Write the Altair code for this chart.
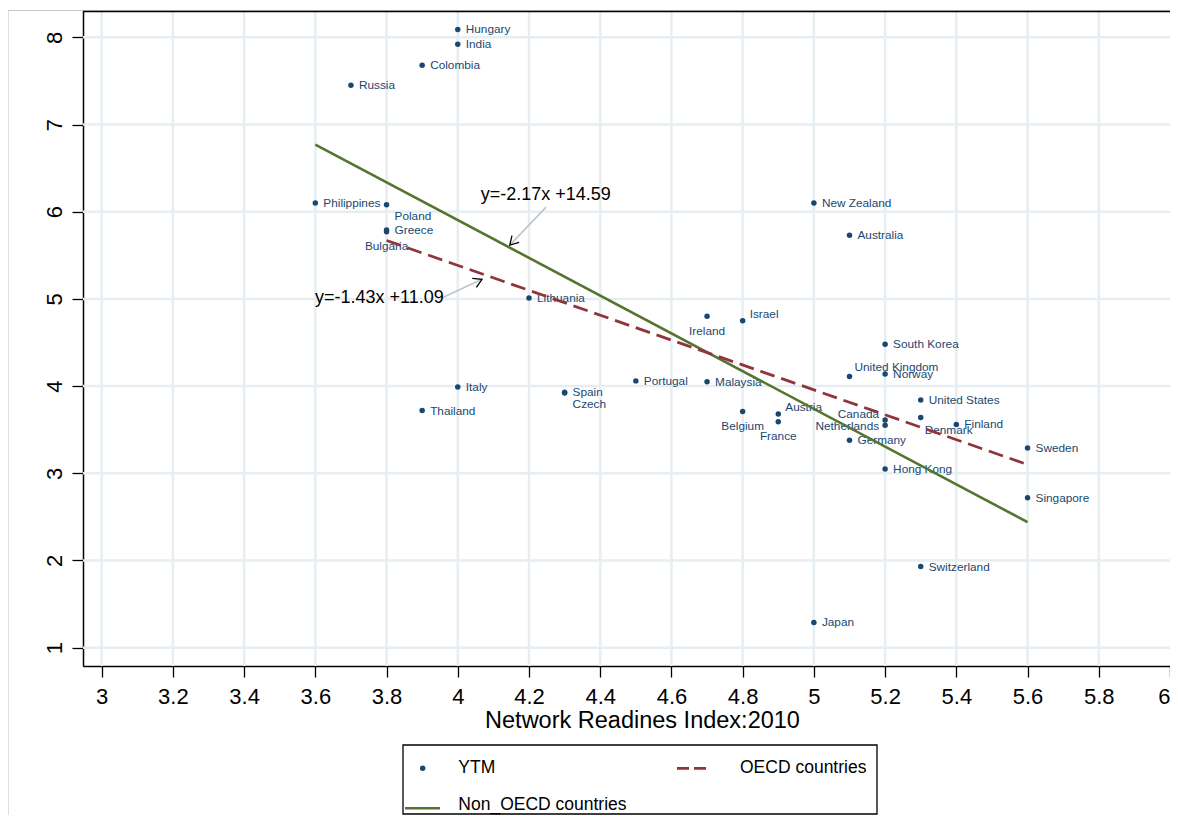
import altair as alt
import pandas as pd

# ---------------- data ----------------
countries = ["Hungary", "India", "Colombia", "Russia", "Philippines", "Poland", "Greece",
             "Bulgaria", "Lithuania", "Italy", "Thailand", "Spain", "Czech", "Portugal",
             "Malaysia", "Ireland", "Israel", "Belgium", "Austria", "France", "New Zealand",
             "Japan", "Australia", "United Kingdom", "Germany", "South Korea", "Norway",
             "Canada", "Netherlands", "Hong Kong", "United States", "Denmark", "Switzerland",
             "Finland", "Sweden", "Singapore"]
nri = [4.0, 4.0, 3.9, 3.7, 3.6, 3.8, 3.8,
       3.8, 4.2, 4.0, 3.9, 4.3, 4.3, 4.5,
       4.7, 4.7, 4.8, 4.8, 4.9, 4.9, 5.0,
       5.0, 5.1, 5.1, 5.1, 5.2, 5.2,
       5.2, 5.2, 5.2, 5.3, 5.3, 5.3,
       5.4, 5.6, 5.6]
ytm = [8.09, 7.92, 7.68, 7.45, 6.10, 6.08, 5.79,
       5.77, 5.01, 3.99, 3.72, 3.93, 3.92, 4.06,
       4.05, 4.80, 4.75, 3.71, 3.68, 3.59, 6.10,
       1.29, 5.73, 4.11, 3.38, 4.48, 4.14,
       3.61, 3.55, 3.05, 3.84, 3.64, 1.93,
       3.56, 3.29, 2.72]
# clock position of each marker label
label_pos = [3, 3, 3, 3, 3, 4, 3,
             6, 3, 3, 3, 3, 4, 3,
             3, 6, 2, 6, 2, 6, 3,
             3, 3, 1, 3, 3, 3,
             10, 9, 3, 3, 5, 3,
             3, 3, 3]

fit_series = ["Non_OECD countries", "Non_OECD countries", "OECD countries", "OECD countries"]
fit_x = [3.6, 5.6, 3.8, 5.6]
fit_y = [6.77, 2.44, 5.67, 3.10]

eq_text = ["y=-2.17x +14.59", "y=-1.43x +11.09"]
eq_x = [4.247, 3.78]
eq_y = [6.19, 5.007]
arrow_x = [4.248, 3.955]
arrow_y = [6.053, 5.01]
arrow_x2 = [4.146, 4.068]
arrow_y2 = [5.617, 5.225]
arrow_angle = [43, 245]

x_ticks = [3, 3.2, 3.4, 3.6, 3.8, 4, 4.2, 4.4, 4.6, 4.8, 5, 5.2, 5.4, 5.6, 5.8, 6]
y_ticks = [1, 2, 3, 4, 5, 6, 7, 8]
grid_x = [3, 3.2, 3.4, 3.6, 3.8, 4, 4.2, 4.4, 4.6, 4.8, 5, 5.2, 5.4, 5.6, 5.8]
grid_y = [1, 2, 3, 4, 5, 6, 7, 8]

legend_labels = ["YTM", "OECD countries", "Non_OECD countries"]

# ---------------- style ----------------
FONT = "Liberation Sans"
NAVY = "#1a476f"
MAROON = "#90353b"
GREEN = "#55752f"
GRID = "#e6eef1"

W, H = 1087, 655
xs = alt.Scale(domain=[2.9476, 6.0], nice=False, zero=False)
ys = alt.Scale(domain=[0.790, 8.302], nice=False, zero=False)

AX = alt.Axis(values=x_ticks, title="Network Readines Index:2010", format="~g",
              labelFlush=False, labelOverlap=False, labelPadding=9,
              labelAlign=alt.condition("datum.value >= 6", alt.value("right"), alt.value("center")),
              titleX=559, titleY=61, titleBaseline="alphabetic", titleAlign="center")
AY = alt.Axis(values=y_ticks, title=None, format="~g", labelAngle=270,
              labelAlign="center", labelBaseline="alphabetic", labelPadding=11,
              labelFlush=False, labelOverlap=False)


def X(field):
    return alt.X(field, scale=xs, axis=AX)


def Y(field):
    return alt.Y(field, scale=ys, axis=AY)


pts = pd.DataFrame({"country": countries, "nri": nri, "ytm": ytm, "pos": label_pos})
fits = pd.DataFrame({"series": fit_series, "nri": fit_x, "ytm": fit_y})
eqs = pd.DataFrame({"t": eq_text, "nri": eq_x, "ytm": eq_y})
shaft_df = pd.DataFrame({"nri": arrow_x, "ytm": arrow_y, "nri2": arrow_x2, "ytm2": arrow_y2})
head_df = pd.DataFrame({"nri": arrow_x2, "ytm": arrow_y2, "ang": arrow_angle})
one = pd.DataFrame({"k": [0]})

gridx = alt.Chart(pd.DataFrame({"nri": grid_x})).mark_rule(color=GRID, strokeWidth=2.5).encode(
    x=X("nri:Q"))
gridy = alt.Chart(pd.DataFrame({"ytm": grid_y})).mark_rule(color=GRID, strokeWidth=2.5).encode(
    y=Y("ytm:Q"))

points = alt.Chart(pts).mark_circle(size=30, color=NAVY, opacity=1).encode(
    x=X("nri:Q"), y=Y("ytm:Q"))

label_styles = {1: ("left", 5, -10), 2: ("left", 7, -7), 3: ("left", 8, 0), 4: ("left", 8, 11),
                5: ("left", 4, 13), 6: ("center", 0, 14.5), 9: ("right", -6, 1), 10: ("right", -6, -6)}
labels = [
    alt.Chart(pts).transform_filter(alt.datum.pos == p).mark_text(
        align=a, dx=dx, dy=dy, baseline="middle", font=FONT, fontSize=11.8, color=NAVY
    ).encode(x=X("nri:Q"), y=Y("ytm:Q"), text="country:N")
    for p, (a, dx, dy) in label_styles.items()
]

green = alt.Chart(fits).transform_filter(alt.datum.series == "Non_OECD countries").mark_line(
    color=GREEN, strokeWidth=2.6).encode(x=X("nri:Q"), y=Y("ytm:Q"))
red = alt.Chart(fits).transform_filter(alt.datum.series == "OECD countries").mark_line(
    color=MAROON, strokeWidth=2.8, strokeDash=[15, 7]).encode(x=X("nri:Q"), y=Y("ytm:Q"))

shafts = alt.Chart(shaft_df).mark_rule(color="#c4c4c4", strokeWidth=1.6).encode(
    x=X("nri:Q"), y=Y("ytm:Q"), x2="nri2:Q", y2="ytm2:Q")
heads = alt.Chart(head_df).mark_point(
    shape="M -0.5 -0.866 L 0 0 L 0.5 -0.866", filled=False, size=380, color="black",
    strokeWidth=1.3, opacity=1).encode(
    x=X("nri:Q"), y=Y("ytm:Q"), angle=alt.Angle("ang:Q", scale=None))
eq_marks = alt.Chart(eqs).mark_text(font=FONT, fontSize=18, color="black", align="center",
                                    baseline="middle").encode(
    x=X("nri:Q"), y=Y("ytm:Q"), text="t:N")

# ---------------- chrome: frame, outer border and legend ----------------
outer = alt.Chart(one).mark_rect(fill="transparent", stroke="#c8c8c8", strokeWidth=1.2).encode(
    x=alt.value(-75), x2=alt.value(1400), y=alt.value(-0.5), y2=alt.value(1000))
top_line = alt.Chart(one).mark_rule(color="black", strokeWidth=1.5).encode(
    x=alt.value(0), x2=alt.value(W + 5), y=alt.value(0.5))
leg_box = alt.Chart(one).mark_rect(fill="white", stroke="black", strokeWidth=1.3).encode(
    x=alt.value(320), x2=alt.value(794), y=alt.value(734), y2=alt.value(803))
leg_dot = alt.Chart(one).mark_circle(size=30, color=NAVY, opacity=1).encode(
    x=alt.value(339.7), y=alt.value(757.3))
leg_red = alt.Chart(one).mark_rule(color=MAROON, strokeWidth=2.8, strokeDash=[12, 5]).encode(
    x=alt.value(594), x2=alt.value(623), y=alt.value(757.3))
leg_green = alt.Chart(one).mark_rule(color=GREEN, strokeWidth=2.6).encode(
    x=alt.value(322), x2=alt.value(357), y=alt.value(797.3))
leg_texts = [
    alt.Chart(one).mark_text(font=FONT, fontSize=17.5, color="black", align="left",
                             baseline="middle", text=legend_labels[i]).encode(
        x=alt.value(px), y=alt.value(py))
    for i, (px, py) in enumerate([(375.3, 757.3), (657, 757.3), (375.3, 794)])
]

chart = alt.layer(
    gridx, gridy, points, *labels, green, red, shafts, heads, eq_marks,
    outer, top_line, leg_box, leg_dot, leg_red, leg_green, *leg_texts
).properties(
    width=W, height=H,
    padding={"left": 75, "top": 3, "right": 0, "bottom": 149},
    autosize=alt.AutoSizeParams(type="none"),
    background="white",
).configure_view(
    strokeWidth=0
).configure_axis(
    grid=False, domainColor="black", domainWidth=1.5, tickColor="black", tickWidth=1.3,
    tickSize=11, labelFont=FONT, labelFontSize=22, labelColor="black",
    titleFont=FONT, titleFontSize=23.5, titleColor="black", titleFontWeight="normal"
)

chart.save("out.html", embed_options={"renderer": "svg", "actions": False})
